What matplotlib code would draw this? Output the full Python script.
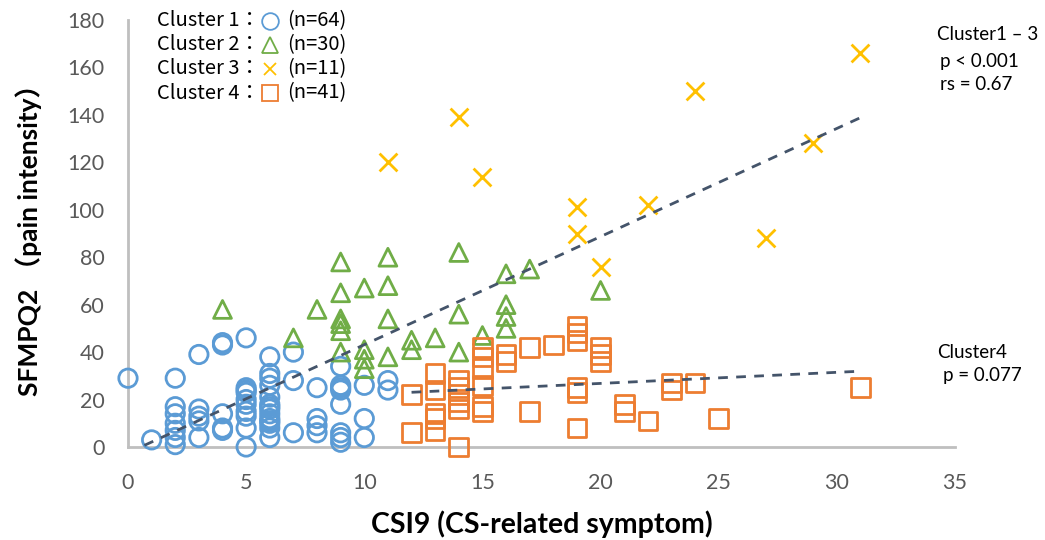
import numpy as np
import matplotlib
matplotlib.use("Agg")
import matplotlib.pyplot as plt

# Cluster 1 (circles)
c1_x = [0, 1,
        2, 2, 2, 2, 2, 2, 2,
        3, 3, 3, 3, 3,
        4, 4, 4, 4, 4,
        5, 5, 5, 5, 5, 5, 5, 5, 5, 5,
        6, 6, 6, 6, 6, 6, 6, 6, 6, 6, 6, 6, 6, 6,
        7, 7, 7,
        8, 8, 8, 8,
        9, 9, 9, 9, 9, 9, 9, 9,
        10, 10, 10,
        11, 11]
c1_y = [29, 3,
        29, 17, 14, 10, 7, 4, 1,
        39, 16, 13, 11, 4,
        44, 43, 14, 8, 7,
        46, 25, 23, 20, 18, 15, 13, 8, 0, 24,
        38, 31, 29, 26, 21, 18, 16, 14, 12, 10, 8, 4, 17, 11,
        40, 28, 6,
        25, 12, 9, 6,
        34, 26, 24, 18, 6, 4, 2, 25,
        26, 12, 4,
        28, 24]

# Cluster 2 (triangles)
c2_x = [4, 7, 8, 9, 9, 9, 9, 9, 9, 10, 10, 10, 10, 11, 11, 11, 11,
        12, 12, 13, 14, 14, 14, 15, 16, 16, 16, 16, 17, 20]
c2_y = [58, 46, 58, 78, 65, 54, 52, 49, 40, 67, 41, 37, 33, 80, 68, 54, 38,
        45, 41, 46, 82, 56, 40, 47, 73, 60, 55, 50, 75, 66]

# Cluster 3 (crosses)
c3_x = [11, 14, 15, 19, 19, 20, 22, 24, 27, 29, 31]
c3_y = [120, 139, 114, 101, 90, 76, 102, 150, 88, 128, 166]

# Cluster 4 (squares)
c4_x = [12, 12, 13, 13, 13, 13, 13, 14, 14, 14, 14, 14, 14,
        15, 15, 15, 15, 15, 15, 16, 16, 17, 17, 18,
        19, 19, 19, 19, 19, 19, 20, 20, 20, 21, 21, 22, 23, 23, 24, 25, 31]
c4_y = [22, 6, 31, 24, 14, 12, 7, 28, 25, 22, 19, 16, 0,
        42, 38, 33, 26, 17, 15, 39, 36, 42, 15, 43,
        51, 48, 45, 25, 23, 8, 42, 39, 36, 18, 15, 11, 27, 24, 27, 12, 25]

legend_names = ["Cluster 1：", "Cluster 2：", "Cluster 3：", "Cluster 4："]
legend_counts = ["(n=64)", "(n=30)", "(n=11)", "(n=41)"]

blue, green, yellow, orange = "#5B9BD5", "#70AD47", "#FFC000", "#ED7D31"
trend = "#44546A"

W, H = 1045, 540
fig = plt.figure(figsize=(W / 100, H / 100), dpi=100)
ax = fig.add_axes([128 / W, 1 - 447 / H, 827 / W, 427 / H])

ax.scatter(c1_x, c1_y, s=175, facecolors="none", edgecolors=blue, linewidths=2, marker="o", zorder=3, clip_on=False)
ax.scatter(c2_x, c2_y, s=165, facecolors="none", edgecolors=green, linewidths=2, marker="^", zorder=3, clip_on=False)
ax.scatter(c3_x, c3_y, s=165, color=yellow, linewidths=2, marker="x", zorder=3, clip_on=False)
ax.scatter(c4_x, c4_y, s=180, facecolors="none", edgecolors=orange, linewidths=2, marker="s", zorder=3, clip_on=False)

# trend lines
x13 = np.array(c1_x + c2_x + c3_x, dtype=float)
y13 = np.array(c1_y + c2_y + c3_y, dtype=float)
k, b = np.polyfit(x13, y13, 1)
xs = np.array([x13.min(), x13.max()])
ax.plot(xs, k * xs + b, color=trend, ls=(0, (3.5, 3)), lw=2, zorder=4)

k4, b4 = np.polyfit(c4_x, c4_y, 1)
xs4 = np.array([min(c4_x), max(c4_x)])
ax.plot(xs4, k4 * xs4 + b4, color=trend, ls=(0, (3.5, 3)), lw=2, zorder=4)

ax.set_xlim(0, 35)
ax.set_ylim(0, 180)
ax.set_xticks(range(0, 36, 5))
ax.set_yticks(range(0, 181, 20))
ax.tick_params(length=0, labelsize=15.5, labelcolor="#595959")
ax.tick_params(axis="x", pad=19)
ax.tick_params(axis="y", pad=17)
for lab in ax.get_xticklabels() + ax.get_yticklabels():
    lab.set_family("Lato")
for s in ["top", "right"]:
    ax.spines[s].set_visible(False)
for s in ["left", "bottom"]:
    ax.spines[s].set_color("#BFBFBF")
    ax.spines[s].set_linewidth(2)

ax.set_xlabel("CSI9 (CS-related symptom)", fontsize=20.5, fontweight="bold",
              family=["Lato", "Noto Sans CJK JP"], labelpad=12)
ax.set_ylabel("SFMPQ2 （pain intensity）", fontsize=19, fontweight="bold",
              family=["Lato", "Noto Sans CJK JP"], labelpad=18)

# legend made of text pieces
mk = [("o", blue, 12), ("^", green, 12), ("x", yellow, 8), ("s", orange, 11)]
for i, (name, cnt) in enumerate(zip(legend_names, legend_counts)):
    yc = 1 - (21 + 24 * i) / H
    fig.text(157 / W, yc, name, fontsize=14.5, va="center", family="Noto Sans CJK JP")
    m, c, ms = mk[i]
    if m == "x":
        fig.lines.append(plt.Line2D([270 / W], [yc], marker=m, ms=ms, color=c, mew=1.3,
                                    transform=fig.transFigure, ls="none"))
    else:
        fig.lines.append(plt.Line2D([270 / W], [yc], marker=m, ms=ms, mfc="none", mec=c, mew=1.3,
                                    transform=fig.transFigure, ls="none"))
    fig.text(287 / W, yc, cnt, fontsize=14.5, va="center", family="Noto Sans CJK JP")

# annotations
note_font = dict(fontsize=13.5, va="center", family="Lato")
fig.text(937 / W, 1 - 35 / H, "Cluster1 – 3", **note_font)
fig.text(940 / W, 1 - 61 / H, "p < 0.001", **note_font)
fig.text(940 / W, 1 - 85 / H, "rs = 0.67", **note_font)
fig.text(937 / W, 1 - 352 / H, "Cluster4", **note_font)
fig.text(943 / W, 1 - 375 / H, "p = 0.077", **note_font)

fig.savefig("out.png", dpi=100)
